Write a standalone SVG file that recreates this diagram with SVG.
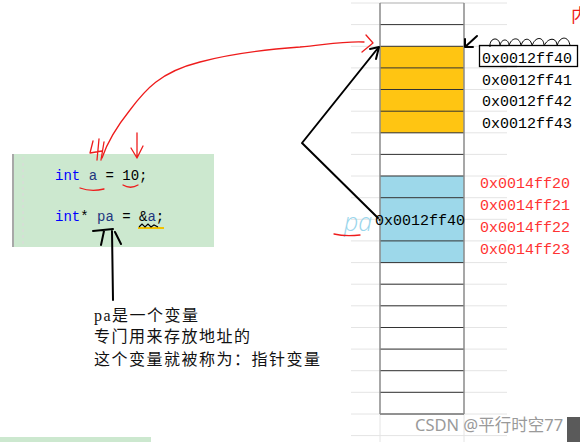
<svg xmlns="http://www.w3.org/2000/svg" width="580" height="442" viewBox="0 0 580 442">
<style>
.grid{stroke:#e4e4e4;stroke-width:1}
.row{stroke:#333;stroke-width:1}
.col{stroke:#8a8a8a;stroke-width:1.5}
.addr{font-family:"Liberation Mono",monospace;font-size:15px}
.code{font-family:"Liberation Mono",monospace;font-size:14px}
.kw{fill:#0000ff}
.id{fill:#1f377f}
.note{font-family:"Liberation Serif","Noto Sans CJK SC",serif;font-size:16px;letter-spacing:1.5px;fill:#111}
.red{fill:none;stroke:#ee1c1c;stroke-width:1.3;stroke-linecap:round;stroke-linejoin:round}
.blk{fill:none;stroke:#000;stroke-width:2;stroke-linecap:round;stroke-linejoin:round}
</style>
<rect width="580" height="442" fill="#fff"/>

<g id="grid">
<path class="grid" d="M351,3H507M351,24.6H507M351,46.3H507M351,67.9H507M351,89.5H507M351,111.2H507M351,132.8H507M351,154.4H507M351,176H507M351,197.7H507M351,219.3H507M351,240.9H507M351,262.6H507M351,284.2H507M351,305.8H507M351,327.5H507M351,349.1H507M351,370.7H507M351,392.3H507M351,414H507M351,435.6H507"/>
<path class="grid" d="M380,414V442M464,414V442"/>
</g>

<g id="memory">
<rect x="380" y="46.3" width="84" height="86.5" fill="#ffc512"/>
<rect x="380" y="176" width="84" height="86.6" fill="#9dd8ea"/>
<path class="row" d="M380,24.6H464M380,46.3H464M380,67.9H464M380,89.5H464M380,111.2H464M380,132.8H464M380,154.4H464M380,176H464M380,197.7H464M380,240.9H464M380,262.6H464M380,284.2H464M380,305.8H464M380,327.5H464M380,349.1H464M380,370.7H464M380,392.3H464M380,414H464"/>
<path class="grid" d="M380,3H464" style="stroke:#bbb"/>
<path class="col" d="M380,3V414M464,3V414"/>
</g>

<g id="addr-a">
<text class="addr" x="482" y="63">0x0012ff40</text>
<text class="addr" x="482" y="84.5">0x0012ff41</text>
<text class="addr" x="482" y="106">0x0012ff42</text>
<text class="addr" x="482" y="128">0x0012ff43</text>
<rect x="479.5" y="45.5" width="98" height="21" fill="none" stroke="#000" stroke-width="1.3"/>
<path d="M490,47 C489,37 500,36 500,46 C501,38 509,38 509,46 C511,37 520,36 521,46 C523,37 531,37 532,46 C535,36 544,36 544,46 C548,37 557,37 557,46 C560,35 569,36 570,46" fill="none" stroke="#000" stroke-width="1"/>
<path d="M500,66.5H517" stroke="#000" stroke-width="1.2"/>
</g>

<g id="addr-pa">
<text class="addr" x="480" y="188" fill="#f33">0x0014ff20</text>
<text class="addr" x="480" y="210" fill="#f33">0x0014ff21</text>
<text class="addr" x="480" y="232" fill="#f33">0x0014ff22</text>
<text class="addr" x="480" y="254" fill="#f33">0x0014ff23</text>
<text class="addr" x="375" y="225" fill="#000">0x0012ff40</text>
</g>

<g id="pa-label">
<text x="344" y="231" font-family="'Open Sans',sans-serif" font-style="italic" font-weight="300" font-size="25" fill="#9ad6ec">pa</text>
<path class="red" d="M334,234 C342,236 352,236 360,235"/>
</g>

<text x="571" y="22" font-family="'Noto Sans CJK SC',sans-serif" font-size="18" fill="#ee1c1c">内</text>

<g id="code">
<rect x="12" y="154" width="202" height="93" fill="#cce8cf"/>
<path d="M13,154V247" stroke="#a8a8a8" stroke-width="2"/>
<path d="M23,157V247" stroke="#d8dcd8" stroke-width="1.5" stroke-dasharray="3,3"/>
<text class="code" x="55" y="180"><tspan class="kw">int</tspan> <tspan class="id">a</tspan> = 10;</text>
<text class="code" x="55" y="221"><tspan class="kw">int</tspan>* <tspan class="id">pa</tspan> = &amp;<tspan class="id">a</tspan>;</text>
<path d="M138,228 H164" stroke="#f2c200" stroke-width="2"/>
<path d="M139,227 L142,224 L145,227 L148,224 L151,227 L154,225 L158,227" fill="none" stroke="#000" stroke-width="1.2"/>
</g>

<rect x="0" y="437" width="151" height="5" fill="#cce8cf"/>

<g id="note">
<text class="note" x="94" y="321">pa是一个变量</text>
<text class="note" x="94" y="342">专门用来存放地址的</text>
<text class="note" x="94" y="365">这个变量就被称为：指针变量</text>
</g>

<g id="connectors">
<path class="red" d="M102,158 C108,140 118,125 130,110 C145,90 160,72 200,62 C230,54 260,50 300,47 C330,44 345,41 364,42"/>
<path class="red" d="M366,35 L373,43 L362,52"/>
<path class="red" d="M93,141 L90,153 L102,151 M99,139 L97,160 M104,142 L101,160"/>
<path class="red" d="M137,133 L137,158 M131,148 L137,158 L143,146"/>
<path class="red" d="M80,188 C88,191 96,191 104,189"/>
<path class="red" d="M123,185 C128,188 133,188 138,185"/>
<path class="blk" d="M378,218 L302,143 L378,48"/>
<path class="blk" d="M370,49 L379,47 L376,59" stroke-width="1.8"/>
<path class="blk" d="M477,36 L465,47 M465,39 L465,47 L473,47" stroke-width="1.5"/>
<path class="blk" d="M93,231 L113,229 M104,231 L101,245 M112,231 L113,300 M115,232 L121,244" stroke-width="1.6"/>
</g>

<g id="watermark">
<text x="415" y="431" font-family="'Noto Sans','Noto Sans CJK SC',sans-serif" font-size="16.5" fill="#9a9a9a">CSDN @平行时空77</text>
<rect x="567" y="417" width="13" height="25" fill="#5a5a5a"/>
</g>
</svg>
